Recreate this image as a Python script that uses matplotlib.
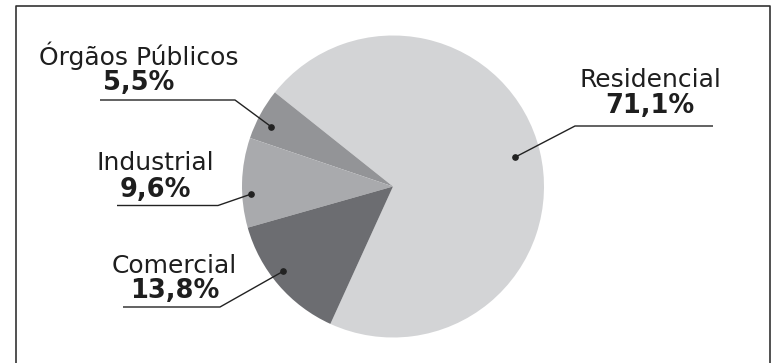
import numpy as np
import matplotlib.pyplot as plt

# data
sectors = ['Residencial', 'Órgãos Públicos', 'Industrial', 'Comercial']
shares = [71.1, 5.5, 9.6, 13.8]
colors = ['#d3d4d6', '#939497', '#a9aaad', '#6c6d71']

# label layout in image pixels: text centre x, name baseline, pct baseline,
# leader line y, leader start x, leader end x
label_pos = {
    'Residencial': (650, 87, 113, 126, 713, 575),
    'Órgãos Públicos': (139, 65, 90, 100, 100, 235),
    'Industrial': (155.5, 170, 197, 205.5, 117, 218),
    'Comercial': (174.5, 273, 298, 307, 123, 220),
}
# where the dot sits inside each slice (angle offset from mid, radius fraction)
dot_pos = {
    'Residencial': (0.0, 0.83),
    'Órgãos Públicos': (2.5, 0.90),
    'Industrial': (4.5, 0.94),
    'Comercial': (-3.0, 0.92),
}

W, H = 773, 363
cx, cy, R = 393, 186.5, 151

fig = plt.figure(figsize=(W / 100, H / 100), dpi=100)

# pie axes sized so the unit circle fills it
ax = fig.add_axes([(cx - R) / W, (H - cy - R) / H, 2 * R / W, 2 * R / H])
wedges, _ = ax.pie(shares, colors=colors, startangle=245.5, counterclock=True,
                   radius=1, wedgeprops=dict(linewidth=0))
ax.set_xlim(-1, 1)
ax.set_ylim(-1, 1)
ax.set_aspect('equal')
ax.axis('off')

# overlay axes in pixel coordinates for labels and frame
ov = fig.add_axes([0, 0, 1, 1], facecolor='none')
ov.set_xlim(0, W)
ov.set_ylim(H, 0)
ov.axis('off')

line_col = '#222222'
for name, val, w in zip(sectors, shares, wedges):
    tx, nb, pb, ly, lx0, lx1 = label_pos[name]
    da, rf = dot_pos[name]
    mid = np.deg2rad((w.theta1 + w.theta2) / 2 + da)
    dx = cx + rf * R * np.cos(mid)
    dy = cy - rf * R * np.sin(mid)
    ov.plot([lx0, lx1, dx], [ly, ly, dy], color=line_col, lw=1.0,
            solid_capstyle='butt')
    ov.plot(dx, dy, 'o', color=line_col, ms=3.8)
    ov.text(tx, nb, name, ha='center', va='baseline', fontsize=18,
            color='#1e1e1e')
    ov.text(tx, pb, f'{val:.1f}'.replace('.', ',') + '%', ha='center',
            va='baseline', fontsize=18.5, fontweight='bold', color='#1e1e1e')

# open frame (no bottom edge)
frame_col = '#333333'
ov.plot([15.5, 15.5, 770, 770], [H + 2, 5.5, 5.5, H + 2], color=frame_col,
        lw=1.2, clip_on=False)

fig.savefig('out.png', dpi=100)
